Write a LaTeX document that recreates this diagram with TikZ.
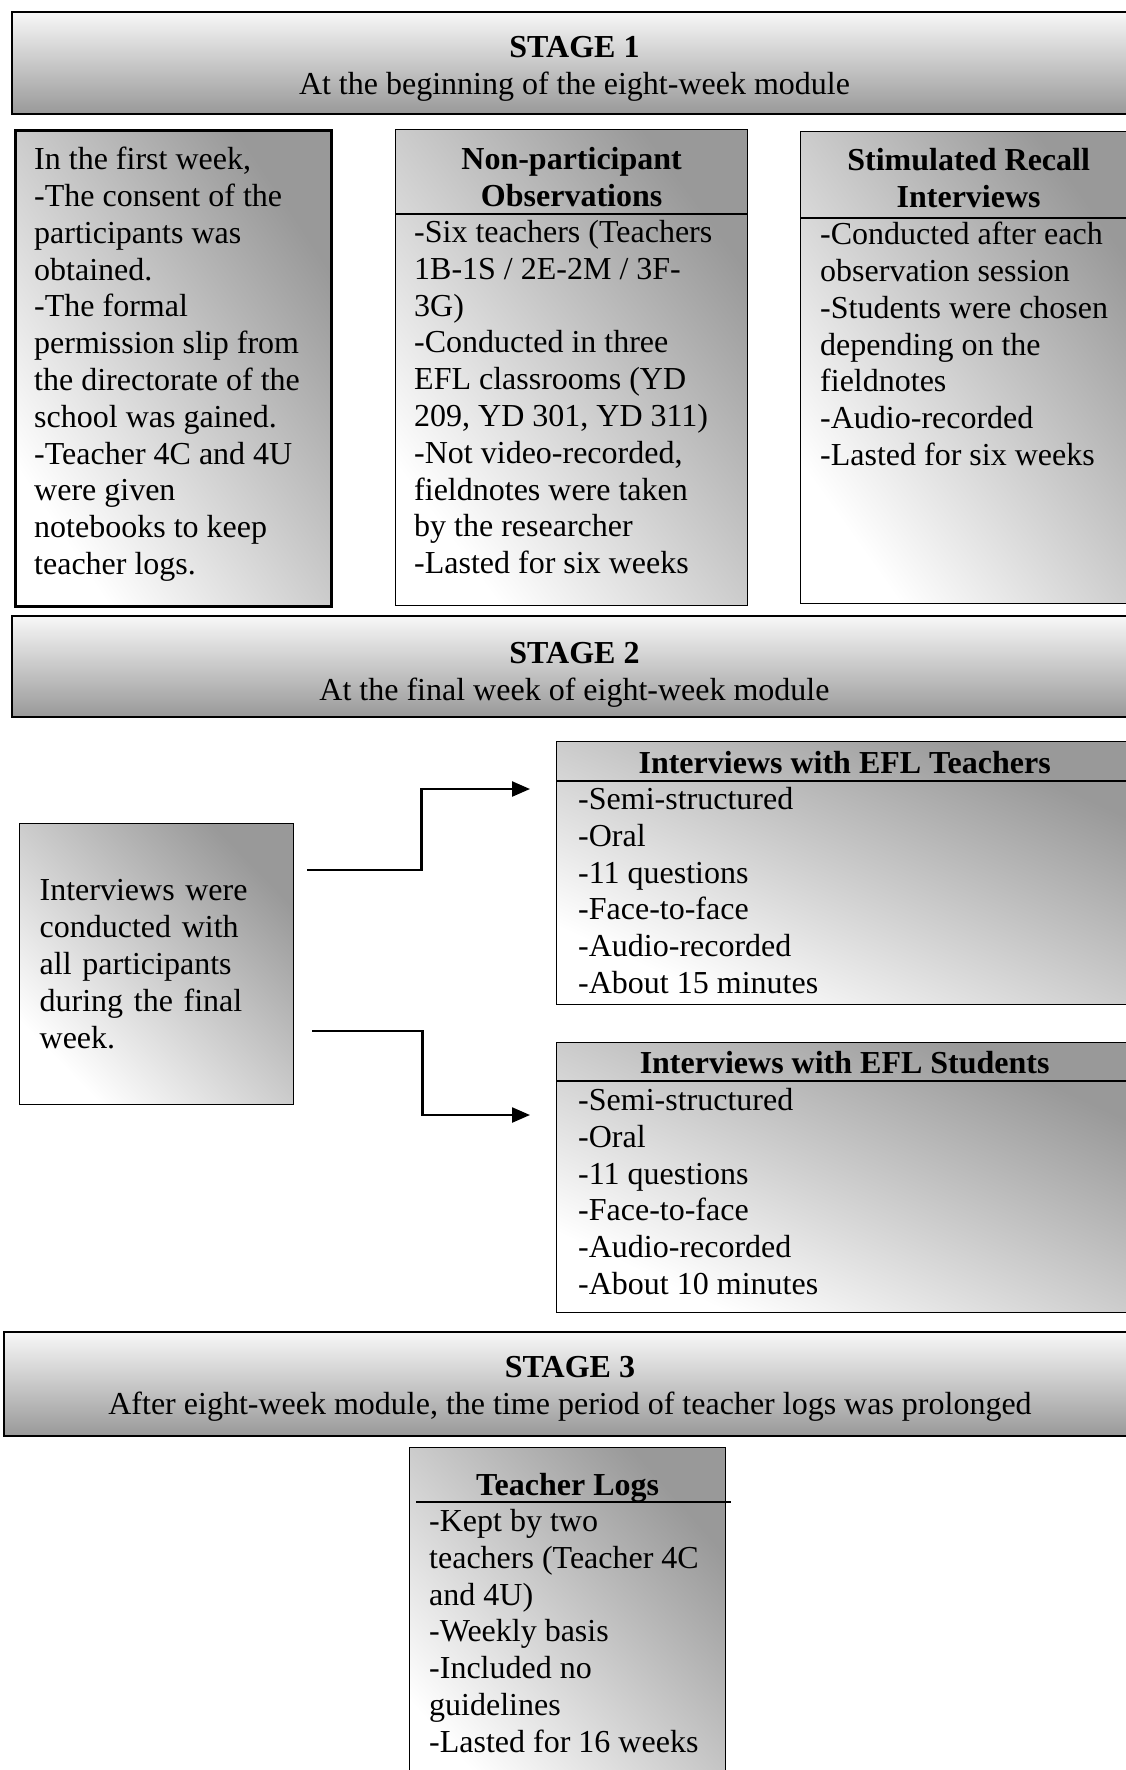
\documentclass[tikz,border=0pt]{standalone}
\usepackage{fontspec}
\setmainfont{Liberation Serif}
\usetikzlibrary{arrows.meta,positioning}
% diagonal grey fill of a box: x, y, width, height
\newcommand{\panelfill}[4]{%
  \begin{scope}[transform canvas={shift={(#1,#2)},xscale=#3/100,yscale=#4/100}]
    \shade[top color=black!40, bottom color=white, shading angle=-45] (0,0) rectangle (100,100);
  \end{scope}}
\begin{document}
\begin{tikzpicture}[x=1pt,y=-1pt,>={Triangle[length=18pt,width=15pt]},font=\fontsize{32}{36.8}\selectfont]
    \tikzstyle{stagebar}=[rectangle, draw, line width=2pt, top color=black!3, bottom color=black!40, inner sep=0pt, anchor=north west]
    \tikzstyle{stagetext}=[anchor=north, align=center, inner sep=0pt]
    \tikzstyle{panel}=[rectangle, draw, line width=1.3pt, anchor=north west, inner sep=0pt]
    \tikzstyle{title}=[anchor=north, align=center, inner sep=0pt, font=\fontsize{32}{36.8}\selectfont\bfseries]
    \tikzstyle{items}=[anchor=north west, align=left, inner sep=0pt]
    \tikzstyle{rule}=[line width=1.3pt]
    \tikzstyle{flow}=[->, line width=2.4pt]
    \useasboundingbox (0,0) rectangle (1125,1770);
    % stage 1
    \node[stagebar, minimum width=1125, minimum height=102] (stageone) at (11,11) {};
    \node[stagetext] (stageonetext) at ([yshift=-25pt]stageone.north) {\textbf{STAGE 1}\\At the beginning of the eight-week module};
    \panelfill{14}{129}{316}{476}
    \node[panel, line width=2.5pt, minimum width=316, minimum height=476] (consent) at (14,129) {};
    \node[items] (consenttext) at ([xshift=20pt,yshift=-18pt]consent.north west) {In the first week,\\-The consent of the\\participants was\\obtained.\\-The formal\\permission slip from\\the directorate of the\\school was gained.\\-Teacher 4C and 4U\\were given\\notebooks to keep\\teacher logs.};
    \panelfill{395}{129}{352}{476}
    \node[panel, minimum width=352, minimum height=476] (obs) at (395,129) {};
    \node[title] (obstitle) at ([yshift=-18pt]obs.north) {Non-participant\\Observations};
    \draw[rule] ([yshift=-85pt]obs.north west) -- ([yshift=-85pt]obs.north east);
    \node[items] (obstext) at ([xshift=19pt,yshift=-91pt]obs.north west) {-Six teachers (Teachers\\1B-1S / 2E-2M / 3F-\\3G)\\-Conducted in three\\EFL classrooms (YD\\209, YD 301, YD 311)\\-Not video-recorded,\\fieldnotes were taken\\by the researcher\\-Lasted for six weeks};
    \panelfill{800}{131}{336}{472}
    \node[panel, minimum width=336, minimum height=472] (recall) at (800,131) {};
    \node[title] (recalltitle) at ([yshift=-17pt]recall.north) {Stimulated Recall\\Interviews};
    \draw[rule] ([yshift=-87pt]recall.north west) -- ([yshift=-87pt]recall.north east);
    \node[items] (recalltext) at ([xshift=20pt,yshift=-91pt]recall.north west) {-Conducted after each\\observation session\\-Students were chosen\\depending on the\\fieldnotes\\-Audio-recorded\\-Lasted for six weeks};
    % stage 2
    \node[stagebar, minimum width=1125, minimum height=101] (stagetwo) at (11,615) {};
    \node[stagetext] (stagetwotext) at ([yshift=-27pt]stagetwo.north) {\textbf{STAGE 2}\\At the final week of eight-week module};
    \panelfill{19}{823}{274}{281}
    \node[panel, minimum width=274, minimum height=281, text width=234, inner xsep=20pt, align=left] (intv) at (19,823) {Interviews were\\conducted with\\all participants\\during the final\\week.};
    \panelfill{556}{741}{576}{263}
    \node[panel, minimum width=576, minimum height=263] (tchint) at (556,741) {};
    \node[title] (tchtitle) at ([yshift=-10pt]tchint.north) {Interviews with EFL Teachers};
    \draw[rule] ([yshift=-40pt]tchint.north west) -- ([yshift=-40pt]tchint.north east);
    \node[items] (tchtext) at ([xshift=22pt,yshift=-46pt]tchint.north west) {-Semi-structured\\-Oral\\-11 questions\\-Face-to-face\\-Audio-recorded\\-About 15 minutes};
    \panelfill{556}{1042}{576}{270}
    \node[panel, minimum width=576, minimum height=270] (stdint) at (556,1042) {};
    \node[title] (stdtitle) at ([yshift=-9pt]stdint.north) {Interviews with EFL Students};
    \draw[rule] ([yshift=-39pt]stdint.north west) -- ([yshift=-39pt]stdint.north east);
    \node[items] (stdtext) at ([xshift=22pt,yshift=-46pt]stdint.north west) {-Semi-structured\\-Oral\\-11 questions\\-Face-to-face\\-Audio-recorded\\-About 10 minutes};
    \coordinate (tchin) at ([xshift=-26pt,yshift=-48pt]tchint.north west);
    \coordinate (stdin) at ([xshift=-26pt,yshift=-73pt]stdint.north west);
    \draw[flow] ([xshift=13pt,yshift=94pt]intv.east) -- ++(114,0) |- (tchin);
    \draw[flow] ([xshift=18pt,yshift=-67pt]intv.east) -- ++(110,0) |- (stdin);
    % stage 3
    \node[stagebar, minimum width=1132, minimum height=104] (stagethree) at (3,1331) {};
    \node[stagetext] (stagethreetext) at ([yshift=-25pt]stagethree.north) {\textbf{STAGE 3}\\After eight-week module, the time period of teacher logs was prolonged};
    \panelfill{409}{1447}{316}{360}
    \node[panel, minimum width=316, minimum height=360] (logs) at (409,1447) {};
    \node[title] (logstitle) at ([yshift=-26pt]logs.north) {Teacher Logs};
    \draw[rule] ([xshift=7pt,yshift=-55pt]logs.north west) -- ([xshift=5pt,yshift=-55pt]logs.north east);
    \node[items] (logstext) at ([xshift=20pt,yshift=-62pt]logs.north west) {-Kept by two\\teachers (Teacher 4C\\and 4U)\\-Weekly basis\\-Included no\\guidelines\\-Lasted for 16 weeks};
\end{tikzpicture}
\end{document}
